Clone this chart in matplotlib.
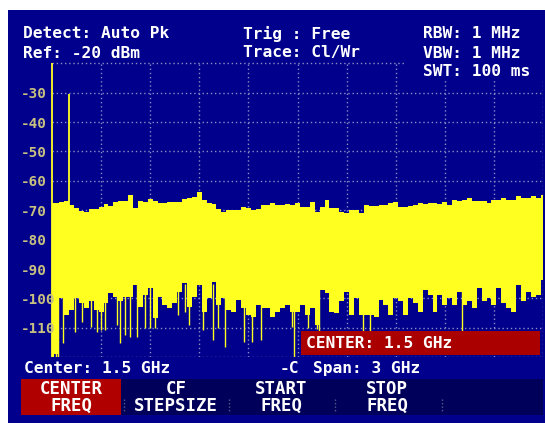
import matplotlib
matplotlib.use('Agg')
import matplotlib.pyplot as plt
from matplotlib.patches import Rectangle
import numpy as np

# ---------------- data ----------------
sweep_start_mhz = 0
sweep_stop_mhz = 3000
sweep_step_mhz = 30
freq_mhz = np.arange(sweep_start_mhz, sweep_stop_mhz + 1, sweep_step_mhz)

trace_max_db = [
    -67.4, -67.4, -67.2, -67.0, -68.2, -69.3, -70.3, -70.6, -69.7, -69.6,
    -68.8, -68.0, -68.5, -67.2, -67.0, -67.0, -64.8, -69.4, -67.0, -67.2,
    -66.3, -66.7, -67.6, -67.6, -67.3, -67.1, -67.1, -66.2, -66.0, -65.4,
    -63.7, -66.5, -67.6, -68.0, -69.5, -70.5, -69.8, -69.9, -70.0, -68.8,
    -69.4, -69.9, -69.5, -68.2, -68.2, -67.6, -68.2, -68.2, -68.0, -68.2,
    -67.6, -68.8, -68.8, -67.1, -70.5, -69.0, -66.5, -69.3, -69.3, -70.5,
    -71.0, -69.9, -69.9, -70.8, -68.2, -68.5, -68.5, -68.2, -68.2, -67.6,
    -67.1, -68.8, -68.8, -68.5, -68.2, -67.6, -67.8, -67.6, -67.6, -67.8,
    -67.1, -68.2, -66.5, -66.7, -66.5, -65.7, -67.0, -67.0, -67.0, -67.6,
    -66.5, -66.5, -66.0, -66.5, -66.5, -65.1, -66.0, -66.0, -65.3, -65.8,
    -64.8]

trace_min_db = [
    -120.0, -119.0, -100.0, -105.6, -103.9, -100.0, -101.6, -103.3, -101.0, -103.9,
    -104.5, -101.6, -98.2, -99.4, -101.0, -99.4, -99.4, -95.4, -102.8, -98.8,
    -96.5, -106.7, -99.4, -102.2, -103.3, -101.6, -97.7, -94.8, -102.8, -99.4,
    -95.4, -104.5, -100.0, -94.3, -102.2, -100.0, -103.9, -104.5, -100.5, -103.3,
    -105.6, -106.2, -102.2, -103.3, -103.3, -106.2, -104.5, -103.3, -102.2, -104.5,
    -104.5, -102.2, -105.6, -103.3, -109.0, -97.1, -98.2, -104.5, -105.0, -101.0,
    -97.7, -105.6, -100.0, -105.6, -105.6, -105.6, -106.2, -100.5, -102.2, -105.6,
    -100.0, -101.0, -105.6, -100.0, -101.6, -104.5, -97.1, -98.8, -104.5, -98.8,
    -102.2, -100.0, -102.2, -97.7, -102.2, -101.0, -103.3, -96.5, -101.0, -100.0,
    -102.2, -96.5, -101.6, -103.3, -104.5, -95.4, -101.0, -97.7, -99.4, -98.8,
    -93.7]

dip_freq_mhz = [22, 39, 65, 141, 185, 236, 273, 297, 324, 395, 415, 446, 477,
                521, 568, 599, 629, 772, 813, 835, 921, 986, 1016, 1057, 1173,
                1220, 1275, 1464, 1481, 1566, 1617, 1631, 1900, 1943, 2505]
dip_db = [-120, -120, -115.2, -111.3, -107.9, -109.6, -111.3, -110.7, -110.7,
          -109.0, -115.2, -112.4, -113.0, -113.0, -110.1, -110.1, -110.1,
          -105.6, -104.5, -109.0, -110.7, -114.1, -110.1, -116.4, -114.7,
          -114.7, -114.1, -109.6, -119.8, -110.0, -110.5, -119.0, -119.0,
          -119.0, -119.0]

spike_freq_mhz = [0, 104]
spike_db = [-20.0, -30.5]

ref_level_db = -20
bottom_db = -120
y_tick_values = [-30, -40, -50, -60, -70, -80, -90, -100, -110]
y_tick_labels = ['-30', '-40', '-50', '-60', '-70', '-80', '-90', '-100', '-110']
x_grid_mhz = [300, 600, 900, 1200, 1500, 1800, 2100, 2400, 2700, 3000]

header_left = ['Detect: Auto Pk', 'Ref: -20 dBm']
header_mid = ['Trig : Free', 'Trace: Cl/Wr']
header_right = ['RBW: 1 MHz', 'VBW: 1 MHz', 'SWT: 100 ms']
center_text = 'Center: 1.5 GHz'
span_text = 'Span: 3 GHz'
marker_box_text = 'CENTER: 1.5 GHz'
softkeys = ['CENTER\nFREQ', 'CF\nSTEPSIZE', 'START\nFREQ', 'STOP\nFREQ']

# ---------------- style ----------------
W, H = 545, 423
BLUE = '#00008c'
DARK = '#00005a'
RED_KEY = '#b00000'
RED_BOX = '#aa0000'
YELLOW = '#ffff20'
GRID = '#8c8cc4'
LABEL = '#c8c080'
WHITE = '#ffffff'
MONO = 'DejaVu Sans Mono'

fig = plt.figure(figsize=(W / 100, H / 100), dpi=100, facecolor='white')

bg = fig.add_axes([0, 0, 1, 1], zorder=0)
bg.set_xlim(0, W); bg.set_ylim(H, 0); bg.axis('off')
bg.add_patch(Rectangle((7.5, 10), W - 7.5, H - 10, color=BLUE, lw=0))

px_left, px_right, px_top, px_bot = 52, 543, 63.2, 357.3
ax = fig.add_axes([px_left / W, (H - px_bot) / H,
                   (px_right - px_left) / W, (px_bot - px_top) / H], zorder=1)
ax.set_facecolor(BLUE)
ax.set_xlim(sweep_start_mhz, sweep_stop_mhz)
ax.set_ylim(bottom_db, ref_level_db)
for s in ax.spines.values():
    s.set_visible(False)
ax.set_xticks([]); ax.set_yticks([])

dot = dict(color=GRID, lw=1.0, dashes=(1, 2), zorder=1)
for v in y_tick_values + [bottom_db]:
    ax.axhline(v, **dot)
ax.plot([sweep_start_mhz, 2157], [ref_level_db, ref_level_db], clip_on=False, **dot)
for f in x_grid_mhz:
    ax.axvline(f, **dot)

ax.fill_between(freq_mhz, trace_min_db, trace_max_db, step='mid',
                color=YELLOW, lw=0, zorder=2)
ax.vlines(dip_freq_mhz, dip_db, -95, color=YELLOW, lw=1.0, zorder=2)
ax.vlines(spike_freq_mhz, [bottom_db, -70], spike_db, color=YELLOW, lw=1.3,
          zorder=3, clip_on=False)

ov = fig.add_axes([0, 0, 1, 1], zorder=3)
ov.set_xlim(0, W); ov.set_ylim(H, 0); ov.axis('off')
ov.patch.set_alpha(0)

fb = dict(family=MONO, weight='bold', fontsize=11.7, color=WHITE, va='center')

ov.add_patch(Rectangle((404, 63), 139, 17, color=BLUE, lw=0))
rows = [34, 53, 72]
for t, y in zip(header_left, rows):
    ov.text(23, y, t, ha='left', **fb)
for t, y in zip(header_mid, rows):
    ov.text(243, y, t, ha='left', **fb)
for t, y in zip(header_right, rows):
    ov.text(423, y, t, ha='left', **fb)

for v, lab in zip(y_tick_values, y_tick_labels):
    y = px_bot - (v - bottom_db) / (ref_level_db - bottom_db) * (px_bot - px_top)
    ov.text(21, y + 1.5, lab, ha='left', va='center', family=MONO,
            weight='bold', fontsize=10.3, color=LABEL)

ov.add_patch(Rectangle((300.5, 331), 239.5, 24, color=RED_BOX, lw=0))
ov.text(306, 343.5, marker_box_text, ha='left', **fb)

ov.text(24, 368.5, center_text, ha='left', **fb)
ov.text(280, 368.5, '-C', ha='left', **fb)
ov.text(313, 368.5, span_text, ha='left', **fb)

ov.add_patch(Rectangle((21, 379), 522, 36, color=DARK, lw=0))
ov.add_patch(Rectangle((21, 379), 100, 36, color=RED_KEY, lw=0))
key_x = [71, 176, 281, 387]
for t, x in zip(softkeys, key_x):
    ov.text(x, 397.5, t, ha='center', va='center', multialignment='center',
            linespacing=0.92, family=MONO, weight='bold', fontsize=12.5,
            color=WHITE)
for x in [124, 229, 335, 442]:
    ov.plot([x, x], [399, 412], color='#50608c', lw=1.0, dashes=(1, 1.5))

fig.savefig('out.png', dpi=100, facecolor='white')
